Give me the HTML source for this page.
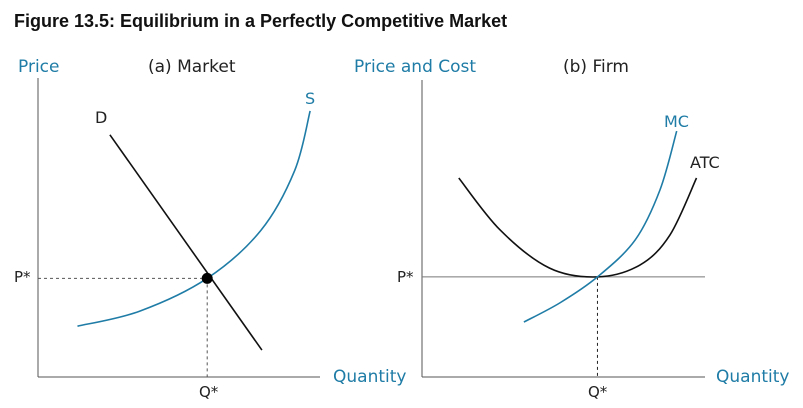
<!DOCTYPE html>
<html><head><meta charset="utf-8"><style>
body{margin:0;background:#fff;width:803px;height:408px;overflow:hidden}
svg{display:block}
text{font-family:"DejaVu Sans","Liberation Sans",sans-serif}
</style></head><body>
<svg id="c" width="803" height="408">
<text x="14" y="27" font-size="18" font-weight="bold" fill="#111" style="font-family:'Liberation Sans',sans-serif">Figure 13.5: Equilibrium in a Perfectly Competitive Market</text>
</svg>
<script>
// Panel (a) market data (quantity, price in 0-100 units)
const demandQ=[25.5,79.4];
const demandP=[81,9];
const supplyQ=[14,36,60,79,91,96.5];
const supplyP=[17,22,33,49,69,89];
const eqQ=60, eqP=33;
// Panel (b) firm data
const atcQ=[13,27.6,45,62,77,87.6,97];
const atcP=[67,49.5,36.7,33.7,37.7,47.8,67];
const mcQ=[36,48.8,62,75.3,84.1,90];
const mcP=[18.5,25,33.7,46.1,63,82.8];
const firmQ=62, firmP=33.7;

const svg=document.getElementById('c');
const NS='http://www.w3.org/2000/svg';
const BLUE='#1f7ca6';
function mk(tag,attrs,name){const e=document.createElementNS(NS,tag);for(const k in attrs)e.setAttribute(k,attrs[k]);


svg.appendChild(e);return e;}
function txt(x,y,s,size,fill,name){const t=mk('text',{x:x,y:y,'font-size':size,fill:fill},name);t.textContent=s;return t;}
function smooth(pts){let d='M'+pts[0][0]+','+pts[0][1];
for(let i=0;i<pts.length-1;i++){const p0=pts[i-1]||pts[i],p1=pts[i],p2=pts[i+1],p3=pts[i+2]||p2;
const c1=[p1[0]+(p2[0]-p0[0])/6,p1[1]+(p2[1]-p0[1])/6],c2=[p2[0]-(p3[0]-p1[0])/6,p2[1]-(p3[1]-p1[1])/6];
d+=' C'+c1+' '+c2+' '+p2;}return d;}
function panel(x0,x1,yTop,yBot){return{x:q=>x0+(x1-x0)*q/100,y:p=>yBot-(yBot-yTop)*p/100,x0,x1,yTop,yBot};}

// Panel a
const A=panel(38,320,78,377);
mk('line',{x1:A.x0,y1:A.yTop,x2:A.x0,y2:A.yBot,stroke:'#555','stroke-width':1},'market-y-axis');
mk('line',{x1:A.x0,y1:A.yBot,x2:A.x1,y2:A.yBot,stroke:'#555','stroke-width':1},'market-x-axis');
mk('line',{x1:A.x0,y1:A.y(eqP),x2:A.x(eqQ),y2:A.y(eqP),stroke:'#555','stroke-dasharray':'3,3'},'market-price-guide');
mk('line',{x1:A.x(eqQ),y1:A.y(eqP),x2:A.x(eqQ),y2:A.yBot,stroke:'#555','stroke-dasharray':'3,3'},'market-quantity-guide');
mk('path',{d:smooth(supplyQ.map((q,i)=>[A.x(q),A.y(supplyP[i])])),fill:'none',stroke:BLUE,'stroke-width':1.6},'supply-curve');
mk('line',{x1:A.x(demandQ[0]),y1:A.y(demandP[0]),x2:A.x(demandQ[1]),y2:A.y(demandP[1]),stroke:'#111','stroke-width':1.6},'demand-curve');
mk('circle',{cx:A.x(eqQ),cy:A.y(eqP),r:5.5,fill:'#000'},'equilibrium-point');
txt(18,72,'Price',17,BLUE,'market-y-axis-title');
txt(148,72,'(a) Market',17,'#222','market-panel-title');
txt(333,382,'Quantity',17,BLUE,'market-x-axis-title');
txt(14,282,'P*',15,'#222','market-p-star-label');
txt(199,397,'Q*',15,'#222','market-q-star-label');
txt(95,123,'D',16,'#222','demand-label');
txt(305,104,'S',16,BLUE,'supply-label');

// Panel b
const B=panel(422,705,80,377);
mk('line',{x1:B.x0,y1:B.yTop,x2:B.x0,y2:B.yBot,stroke:'#555','stroke-width':1},'firm-y-axis');
mk('line',{x1:B.x0,y1:B.yBot,x2:B.x1,y2:B.yBot,stroke:'#555','stroke-width':1},'firm-x-axis');
mk('line',{x1:B.x0,y1:B.y(firmP),x2:B.x1,y2:B.y(firmP),stroke:'#777','stroke-width':1},'firm-price-line');
mk('line',{x1:B.x(firmQ),y1:B.y(firmP),x2:B.x(firmQ),y2:B.yBot,stroke:'#222','stroke-dasharray':'3,3'},'firm-quantity-guide');
mk('path',{d:smooth(atcQ.map((q,i)=>[B.x(q),B.y(atcP[i])])),fill:'none',stroke:'#111','stroke-width':1.6},'atc-curve');
mk('path',{d:smooth(mcQ.map((q,i)=>[B.x(q),B.y(mcP[i])])),fill:'none',stroke:BLUE,'stroke-width':1.6},'mc-curve');
txt(354,72,'Price and Cost',17,BLUE,'firm-y-axis-title');
txt(563,72,'(b) Firm',17,'#222','firm-panel-title');
txt(716,382,'Quantity',17,BLUE,'firm-x-axis-title');
txt(397,282,'P*',15,'#222','firm-p-star-label');
txt(588,397,'Q*',15,'#222','firm-q-star-label');
txt(664,127,'MC',16,BLUE,'mc-label');
txt(690,168,'ATC',16,'#222','atc-label');
</script>
</body></html>
